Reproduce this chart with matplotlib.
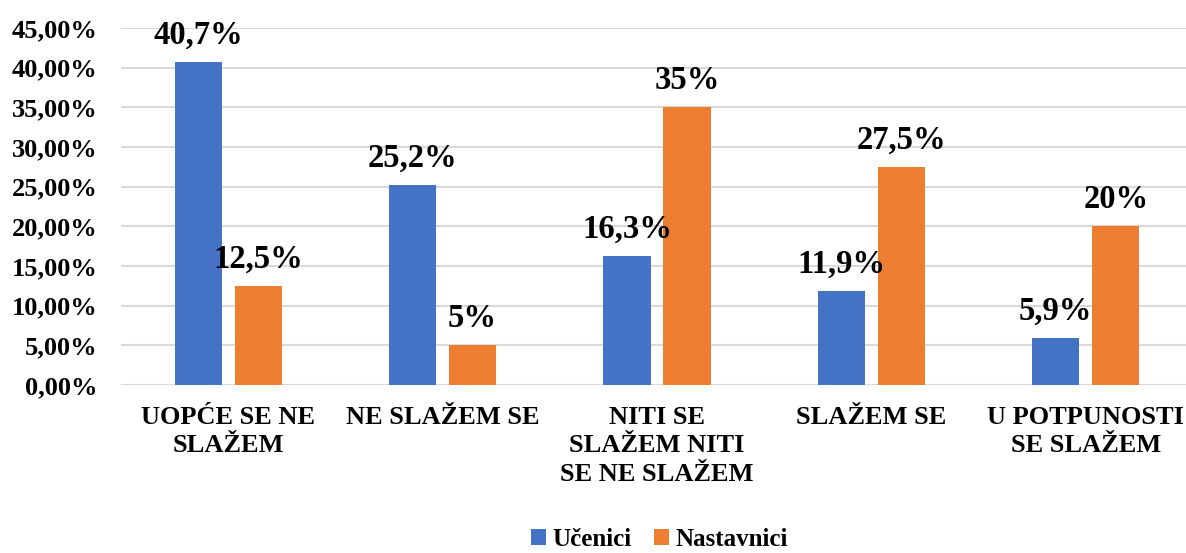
import numpy as np
import matplotlib.pyplot as plt

# categories and values (percent)
categories = ["UOPĆE SE NE\nSLAŽEM", "NE SLAŽEM SE", "NITI SE\nSLAŽEM NITI\nSE NE SLAŽEM",
              "SLAŽEM SE", "U POTPUNOSTI\nSE SLAŽEM"]
ucenici = [40.7, 25.2, 16.3, 11.9, 5.9]
nastavnici = [12.5, 5.0, 35.0, 27.5, 20.0]
ucenici_labels = ["40,7%", "25,2%", "16,3%", "11,9%", "5,9%"]
nastavnici_labels = ["12,5%", "5%", "35%", "27,5%", "20%"]
yticks = [0, 5, 10, 15, 20, 25, 30, 35, 40, 45]

plt.rcParams['font.family'] = ['Liberation Serif', 'DejaVu Serif']
plt.rcParams['font.weight'] = 'bold'

fig = plt.figure(figsize=(11.86, 5.53), dpi=100)
ax = fig.add_axes([121 / 1186, 1 - 385 / 553, (1193 - 121) / 1186, (385 - 28) / 553])

x = np.arange(len(categories))
w = 0.22
off = 0.14
b1 = ax.bar(x - off, ucenici, w, color="#4472C4", label="Učenici", zorder=3)
b2 = ax.bar(x + off, nastavnici, w, color="#ED7D31", label="Nastavnici", zorder=3)

for bars, labels in [(b1, ucenici_labels), (b2, nastavnici_labels)]:
    for rect, lab in zip(bars, labels):
        ax.annotate(lab, (rect.get_x() + rect.get_width() / 2, rect.get_height()),
                    xytext=(0, 8), textcoords="offset points", ha="center", va="bottom",
                    fontsize=23.5, fontweight="bold")

ax.set_xlim(-0.5, 4.5)
ax.set_ylim(0, 45)
ax.set_yticks(yticks)
ax.set_yticklabels([f"{v},00%" for v in yticks], fontsize=19, fontweight="bold")
ax.set_xticks(x)
ax.set_xticklabels(categories, fontsize=19, fontweight="bold", linespacing=1.3)
ax.tick_params(axis="both", length=0)
ax.tick_params(axis="x", pad=15)
ax.tick_params(axis="y", pad=17)
ax.grid(axis="y", color="#D9D9D9", linewidth=1.5, zorder=0)
for s in ax.spines.values():
    s.set_visible(False)

fig.legend(loc="lower center", bbox_to_anchor=(0.556, -0.037), ncol=2, frameon=False,
           prop={"size": 18, "weight": "bold"}, handlelength=0.6, handleheight=0.6,
           handletextpad=0.25, columnspacing=0.9)

fig.savefig("out.png", dpi=100)
